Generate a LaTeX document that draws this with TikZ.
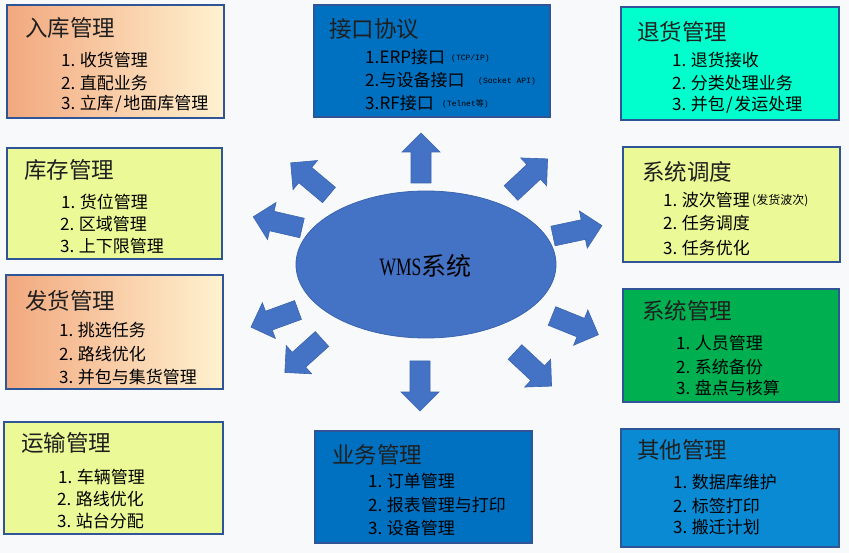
\documentclass[tikz,border=0pt]{standalone}
\usepackage{fontspec}
\setmainfont{Noto Sans CJK SC}
\newfontfamily\wmsfont{Liberation Serif}
\newfontfamily\monofnt{Liberation Mono}
\usetikzlibrary{shapes.geometric}
\definecolor{bgc}{HTML}{F8F9FA}
\definecolor{boxline}{HTML}{2F5597}
\definecolor{orL}{RGB}{242,168,126}
\definecolor{orR}{RGB}{255,242,208}
\definecolor{ygreen}{HTML}{EBFA96}
\definecolor{dblue}{HTML}{0070C0}
\definecolor{aqua}{HTML}{00FFCC}
\definecolor{sgreen}{HTML}{00B050}
\definecolor{mblue}{HTML}{0A8AD2}
\definecolor{arrfill}{HTML}{4472C4}
\definecolor{arrline}{HTML}{3A64AE}
\newcommand{\blockarrow}[3]{\draw[barrow, shift={(#1,#2)}, rotate=#3] (0,-10) -- (31,-10) -- (31,-19) -- (50,0) -- (31,19) -- (31,10) -- (0,10) -- cycle;}
\newcommand{\inum}[1]{\makebox[1.1em][l]{#1.}}
\newcommand{\jnum}[1]{\makebox[0.85em][l]{#1.}}
\newcommand{\hw}[1]{\makebox[0.55em][c]{#1}}
\tikzset{
  box/.style={draw=boxline, line width=2pt, rectangle, inner sep=0pt},
  orbox/.style={box, left color=orL, right color=orR},
  title/.style={anchor=west, inner sep=0pt, text=black!88, font=\fontsize{22.5}{22.5}\selectfont},
  item/.style={anchor=west, inner sep=0pt, font=\fontsize{17}{17}\selectfont},
  tiny/.style={anchor=west, inner sep=0pt, font=\fontsize{8}{8}\selectfont},
  small/.style={anchor=west, inner sep=0pt, font=\fontsize{12}{12}\selectfont},
  barrow/.style={fill=arrfill, draw=arrline, line width=0.6pt, line join=miter},
}
\begin{document}
\begin{tikzpicture}[x=1pt,y=-1pt]
\fill[bgc] (0,0) rectangle (849,553);
\useasboundingbox (0,0) rectangle (849,553);

% central ellipse
\node[ellipse, fill=arrfill, draw=arrline, line width=0.8pt, minimum width=260pt, minimum height=147pt, inner sep=0pt] (wms) at (426,264.5) {};
\node[inner sep=0pt, font=\fontsize{25}{25}\selectfont] (wmst) at (425.5,266) {{\wmsfont\scalebox{0.7}[1]{WMS}}系统};

% block arrows
\blockarrow{421}{183}{90}
\blockarrow{420}{361}{-90}
\blockarrow{329}{195}{140}
\blockarrow{302}{228}{167}
\blockarrow{298}{310}{200}
\blockarrow{322}{339}{222}
\blockarrow{511}{193}{43}
\blockarrow{553}{236}{12}
\blockarrow{552}{316}{-22}
\blockarrow{515}{352}{-43}

% boxes
\node[orbox, minimum width=217pt, minimum height=113pt] (rk) at (115.5,61.5) {};
\node[box, fill=dblue, minimum width=236pt, minimum height=112pt] (jk) at (432,61) {};
\node[box, fill=aqua, minimum width=218pt, minimum height=113pt] (th) at (730,63.5) {};
\node[box, fill=ygreen, minimum width=215pt, minimum height=111pt] (kc) at (114.5,203.5) {};
\node[box, fill=ygreen, minimum width=217pt, minimum height=115pt] (dd) at (731.5,204.5) {};
\node[orbox, minimum width=217pt, minimum height=114pt] (fh) at (114.5,332) {};
\node[box, fill=sgreen, minimum width=216pt, minimum height=113pt] (xg) at (731,345.5) {};
\node[box, fill=ygreen, minimum width=219pt, minimum height=112pt] (ys) at (113.5,478) {};
\node[box, fill=dblue, minimum width=217pt, minimum height=112pt] (yw) at (423.5,487) {};
\node[box, fill=mblue, minimum width=218pt, minimum height=118pt] (qt) at (730,488) {};

% 入库管理
\node[title] (rk0) at (25,28) {入库管理};
\node[item] (rk1) at (61,60) {\inum{1}收货管理};
\node[item] (rk2) at (61,83) {\inum{2}直配业务};
\node[item] (rk3) at (61,104) {\inum{3}立库\hw{/}地面库管理};

% 库存管理
\node[title] (kc0) at (24,170) {库存管理};
\node[item] (kc1) at (61,202) {\inum{1}货位管理};
\node[item] (kc2) at (60,224) {\inum{2}区域管理};
\node[item] (kc3) at (60,246) {\inum{3}上下限管理};

% 发货管理
\node[title] (fh0) at (25,301) {发货管理};
\node[item] (fh1) at (59,330) {\inum{1}挑选任务};
\node[item] (fh2) at (59,354) {\inum{2}路线优化};
\node[item] (fh3) at (59,377) {\inum{3}并包与集货管理};

% 运输管理
\node[title] (ys0) at (21,443) {运输管理};
\node[item] (ys1) at (58,477) {\inum{1}车辆管理};
\node[item] (ys2) at (57,499) {\inum{2}路线优化};
\node[item] (ys3) at (57,521) {\inum{3}站台分配};

% 接口协议
\node[title] (jk0) at (329,29) {接口协议};
\node[item] (jk1) at (365,57) {\jnum{1}ERP接口};
\node[tiny] (jk1s) at (451,58) {\monofnt (TCP/IP)};
\node[item] (jk2) at (365,80) {\jnum{2}与设备接口};
\node[tiny] (jk2s) at (478,81) {\monofnt (Socket API)};
\node[item] (jk3) at (365,103) {\jnum{3}RF接口};
\node[tiny] (jk3s) at (442,104) {{\monofnt (Telnet}等{\monofnt )}};

% 退货管理
\node[title] (th0) at (637,32) {退货管理};
\node[item] (th1) at (672,60) {\inum{1}退货接收};
\node[item] (th2) at (672,83) {\inum{2}分类处理业务};
\node[item] (th3) at (672,105) {\inum{3}并包\hw{/}发运处理};

% 系统调度
\node[title] (dd0) at (642,172) {系统调度};
\node[item] (dd1) at (663,200) {\inum{1}波次管理};
\node[small] (dd1s) at (752,201) {(发货波次)};
\node[item] (dd2) at (663,223) {\inum{2}任务调度};
\node[item] (dd3) at (663,248) {\inum{3}任务优化};

% 系统管理
\node[title] (xg0) at (642,311) {系统管理};
\node[item] (xg1) at (676,343) {\inum{1}人员管理};
\node[item] (xg2) at (676,367) {\inum{2}系统备份};
\node[item] (xg3) at (676,388) {\inum{3}盘点与核算};

% 业务管理
\node[title] (yw0) at (332,455) {业务管理};
\node[item] (yw1) at (368,481) {\inum{1}订单管理};
\node[item] (yw2) at (368,505) {\inum{2}报表管理与打印};
\node[item] (yw3) at (368,528) {\inum{3}设备管理};

% 其他管理
\node[title] (qt0) at (637,450) {其他管理};
\node[item] (qt1) at (673,482) {\inum{1}数据库维护};
\node[item] (qt2) at (673,506) {\inum{2}标签打印};
\node[item] (qt3) at (673,527) {\inum{3}搬迁计划};
\end{tikzpicture}
\end{document}
